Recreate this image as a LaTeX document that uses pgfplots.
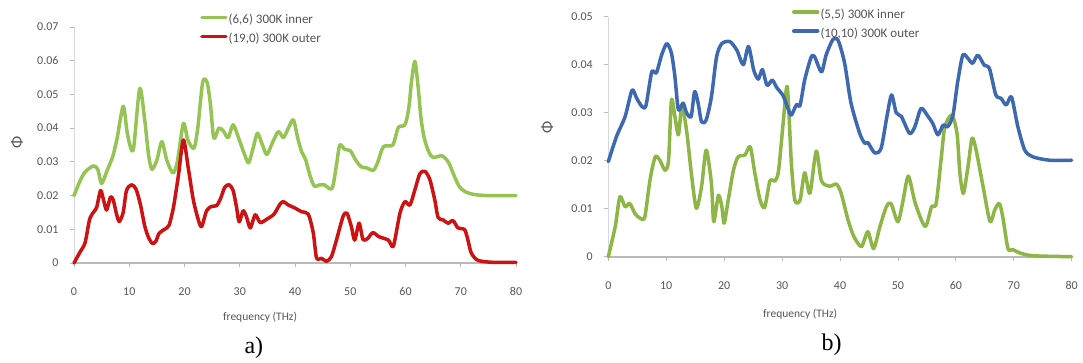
\documentclass[border=0pt]{standalone}
\usepackage{pgfplots}
\pgfplotsset{compat=1.18}
\usepackage{fontspec}
\setmainfont{Carlito}
\newfontfamily\timesfont{Liberation Serif}
\definecolor{lgreen}{RGB}{150,196,84}
\definecolor{lred}{RGB}{204,18,18}
\definecolor{rgreen}{RGB}{142,182,70}
\definecolor{rblue}{RGB}{62,104,176}
\definecolor{axgray}{RGB}{185,185,185}
\definecolor{axlight}{RGB}{215,215,215}
\definecolor{txtgray}{RGB}{85,85,85}

\pgfplotstableread{
x y
0 0.0200
1 0.0240
2 0.0270
3.5 0.0288
4.3 0.0278
5.0 0.0236
6.0 0.0275
7.0 0.0315
7.8 0.0370
8.9 0.0465
9.6 0.0390
10.2 0.0345
10.8 0.0342
11.9 0.0518
12.8 0.0424
13.5 0.0320
14.1 0.0278
15.0 0.0305
15.9 0.0360
16.8 0.0305
17.9 0.0267
18.7 0.0300
19.8 0.0414
20.6 0.0365
21.7 0.0340
22.4 0.0400
23.3 0.0537
24.1 0.0535
24.7 0.0470
25.3 0.0370
26.2 0.0400
27.0 0.0392
27.9 0.0372
28.8 0.0410
29.8 0.0370
30.8 0.0325
31.6 0.0297
32.4 0.0340
33.2 0.0385
34.0 0.0355
34.9 0.0322
36.0 0.0360
37.0 0.0390
37.9 0.0372
38.8 0.0400
39.7 0.0425
40.5 0.0370
41.2 0.0330
41.9 0.0308
42.7 0.0260
43.5 0.0228
44.5 0.0232
45.3 0.0232
46.7 0.0221
47.5 0.0290
48.1 0.0350
49.0 0.0337
50.0 0.0333
51.0 0.0305
52.0 0.0285
53.0 0.0282
54.2 0.0275
55.0 0.0300
56.0 0.0345
57.7 0.0350
58.7 0.0402
59.9 0.0410
60.6 0.0460
61.1 0.0540
61.7 0.0598
62.3 0.0520
62.8 0.0430
63.4 0.0370
64.2 0.0330
65.0 0.0313
66.6 0.0318
67.8 0.0298
68.9 0.0255
69.8 0.0225
71.0 0.0210
72.5 0.0203
75.0 0.0200
80.0 0.0200
}\leftgreen

\pgfplotstableread{
x y
0 0.0000
1.0 0.0030
2.0 0.0060
2.8 0.0128
3.5 0.0150
4.1 0.0165
4.8 0.0215
5.3 0.0190
5.9 0.0157
6.6 0.0196
7.1 0.0187
7.7 0.0145
8.2 0.0123
8.9 0.0150
9.5 0.0215
10.4 0.0232
11.2 0.0220
12.0 0.0175
12.8 0.0110
13.5 0.0075
14.2 0.0058
14.8 0.0064
15.4 0.0088
16.3 0.0099
17.2 0.0112
18.0 0.0165
18.9 0.0260
19.8 0.0365
20.7 0.0280
21.6 0.0187
22.5 0.0128
23.1 0.0108
24.0 0.0155
24.9 0.0168
25.8 0.0170
26.5 0.0190
27.3 0.0225
28.1 0.0232
28.8 0.0215
29.4 0.0167
29.9 0.0122
30.6 0.0155
31.2 0.0138
31.9 0.0104
32.8 0.0143
33.7 0.0120
34.9 0.0130
36.2 0.0145
37.3 0.0175
37.9 0.0182
38.8 0.0172
40.0 0.0163
41.2 0.0152
42.4 0.0145
43.3 0.0090
43.9 0.0015
44.8 0.0014
45.7 0.0005
46.6 0.0019
47.5 0.0068
48.7 0.0138
49.4 0.0148
50.2 0.0108
50.8 0.0068
51.6 0.0118
52.3 0.0070
53.1 0.0072
54.1 0.0090
55.2 0.0078
56.9 0.0068
57.8 0.0050
59.0 0.0148
59.9 0.0182
60.8 0.0172
61.7 0.0217
62.6 0.0265
63.5 0.0272
64.4 0.0248
65.3 0.0187
65.9 0.0135
66.8 0.0128
67.7 0.0118
68.6 0.0126
69.5 0.0104
70.7 0.0099
71.3 0.0068
71.9 0.0030
73.1 0.0008
75.8 0.0002
80.0 0.0002
}\leftred

\pgfplotstableread{
x y
0 0.0198
1.4 0.0250
2.9 0.0292
4.1 0.0347
4.9 0.0330
5.8 0.0313
6.5 0.0315
7.5 0.0385
8.3 0.0383
9.2 0.0420
10.1 0.0444
10.9 0.0424
11.5 0.0375
12.1 0.0306
12.9 0.0320
13.5 0.0300
14.3 0.0292
14.9 0.0344
15.5 0.0320
16.1 0.0281
16.9 0.0285
17.8 0.0333
18.7 0.0417
19.6 0.0444
21.0 0.0448
22.2 0.0430
23.3 0.0400
24.2 0.0438
25.1 0.0389
25.9 0.0370
26.6 0.0390
27.4 0.0357
28.3 0.0368
29.1 0.0352
30.2 0.0335
31.1 0.0306
31.6 0.0295
32.5 0.0317
33.1 0.0315
33.9 0.0368
35.0 0.0415
35.6 0.0417
36.8 0.0385
37.6 0.0420
38.8 0.0453
39.7 0.0450
40.8 0.0403
41.9 0.0320
43.4 0.0257
44.3 0.0236
44.8 0.0238
46.0 0.0216
47.1 0.0226
48.1 0.0292
48.9 0.0337
49.7 0.0300
50.6 0.0292
52.0 0.0257
52.9 0.0270
54.0 0.0309
55.2 0.0292
56.0 0.0278
56.9 0.0254
57.8 0.0274
58.6 0.0271
59.5 0.0295
60.3 0.0363
61.2 0.0420
62.1 0.0413
62.9 0.0403
63.8 0.0420
64.9 0.0399
65.8 0.0392
66.9 0.0337
67.8 0.0330
68.7 0.0316
69.6 0.0333
70.7 0.0271
71.9 0.0222
73.3 0.0208
76.2 0.0201
80.0 0.0201
}\rightblue

\pgfplotstableread{
x y
0 0.0000
1.2 0.0063
2.0 0.0125
2.9 0.0104
3.7 0.0111
4.6 0.0090
5.5 0.0080
6.3 0.0083
7.2 0.0160
8.1 0.0208
8.9 0.0201
9.8 0.0180
10.4 0.0201
10.9 0.0326
11.5 0.0292
12.1 0.0254
12.7 0.0313
13.5 0.0264
14.4 0.0167
15.2 0.0101
16.1 0.0146
16.9 0.0222
17.8 0.0153
18.2 0.0073
19.0 0.0128
19.6 0.0104
20.0 0.0070
20.7 0.0118
21.6 0.0180
22.4 0.0208
23.6 0.0212
24.5 0.0229
25.3 0.0174
26.2 0.0118
27.0 0.0103
27.9 0.0158
28.8 0.0158
29.4 0.0180
30.2 0.0280
30.9 0.0354
31.6 0.0195
32.2 0.0118
33.1 0.0118
33.9 0.0175
34.8 0.0132
35.9 0.0220
36.8 0.0158
38.2 0.0147
39.4 0.0151
40.2 0.0132
41.4 0.0076
42.4 0.0042
43.7 0.0021
44.8 0.0052
45.8 0.0017
46.9 0.0063
48.0 0.0104
48.8 0.0111
50.0 0.0073
50.9 0.0118
51.8 0.0168
53.0 0.0111
54.7 0.0063
55.8 0.0104
56.6 0.0111
57.5 0.0208
58.1 0.0271
59.3 0.0295
60.2 0.0257
60.7 0.0174
61.3 0.0132
62.1 0.0188
62.8 0.0247
63.5 0.0222
64.7 0.0146
65.9 0.0073
66.7 0.0097
67.5 0.0111
68.1 0.0083
69.0 0.0017
69.8 0.0015
71.0 0.0008
73.3 0.0002
80.0 0.0000
}\rightgreen

\pgfplotsset{
  excel/.style={
    scale only axis,
    xmin=0, xmax=80, ymin=0,
    axis x line*=bottom, axis y line*=left,
    axis line style={-},
    x axis line style={draw=axgray, line width=1.8pt},
    y axis line style={draw=axlight, line width=0.8pt},
    tick align=outside,
    major tick length=4pt,
    tick style={draw=axgray, line width=0.8pt},
    xtick={0,10,...,80},
    minor tick num=0,
    clip=false,
    scaled y ticks=false,
    tick label style={font=\fontsize{12}{14}\selectfont, text=txtgray},
    /pgf/number format/assume math mode=true,
    yticklabel style={/pgf/number format/fixed, /pgf/number format/precision=2, xshift=-8pt},
    xticklabel style={yshift=-17pt},
    label style={font=\fontsize{11.5}{13}\selectfont, text=txtgray},
    legend style={draw=none, fill=none, inner sep=0pt, font=\fontsize{13}{15}\selectfont, text=txtgray,
      row sep=5pt, nodes={inner sep=1pt, text height=9pt, text depth=3pt}},
    legend cell align=left,
    legend image code/.code={\draw[#1, line width=3.5pt] (0pt,3pt) -- (24pt,3pt);},
    every axis plot/.append style={line width=3.5pt, smooth, tension=0.45, line join=round, line cap=round},
  }
}

\begin{document}
\begin{tikzpicture}
\path[use as bounding box] (0pt,0pt) rectangle (1083pt,-362pt);
% panel a
\begin{axis}[excel,
  at={(74pt,-263pt)}, anchor=south west,
  width=442pt, height=236pt,
  ymax=0.07, ytick={0,0.01,...,0.07},
  xlabel={frequency (THz)},
  xlabel style={at={(axis description cs:0.421,0)}, anchor=center, yshift=-54pt},
  legend style={at={(axis description cs:0.285,1.058)}, anchor=north west},
]
\addplot[lgreen] table[x=x,y=y] {\leftgreen};
\addlegendentry{(6,6) 300K inner}
\addplot[lred] table[x=x,y=y] {\leftred};
\addlegendentry{(19,0) 300K outer}
\node[font=\fontsize{16}{16}\selectfont, text=txtgray, rotate=90, anchor=center] at (axis description cs:-0.129,0.51) {Φ};
\node[font=\timesfont\fontsize{24}{26}\selectfont, anchor=center] at (axis description cs:0.407,0) [yshift=-85pt] {a)};
\end{axis}
% panel b
\begin{axis}[excel,
  at={(608.3pt,-256.7pt)}, anchor=south west,
  width=463.4pt, height=240pt,
  ymax=0.05, ytick={0,0.01,...,0.05},
  xlabel={frequency (THz)},
  xlabel style={at={(axis description cs:0.414,0)}, anchor=center, yshift=-58pt},
  legend style={at={(axis description cs:0.396,1.037)}, anchor=north west},
]
\addplot[rgreen] table[x=x,y=y] {\rightgreen};
\addlegendentry{(5,5) 300K inner}
\addplot[rblue] table[x=x,y=y] {\rightblue};
\addlegendentry{(10,10) 300K outer}
\node[font=\fontsize{16}{16}\selectfont, text=txtgray, rotate=90, anchor=center] at (axis description cs:-0.132,0.54) {Φ};
\node[font=\timesfont\fontsize{24}{26}\selectfont, anchor=center] at (axis description cs:0.482,0) [yshift=-88pt] {b)};
\end{axis}
\end{tikzpicture}
\end{document}
